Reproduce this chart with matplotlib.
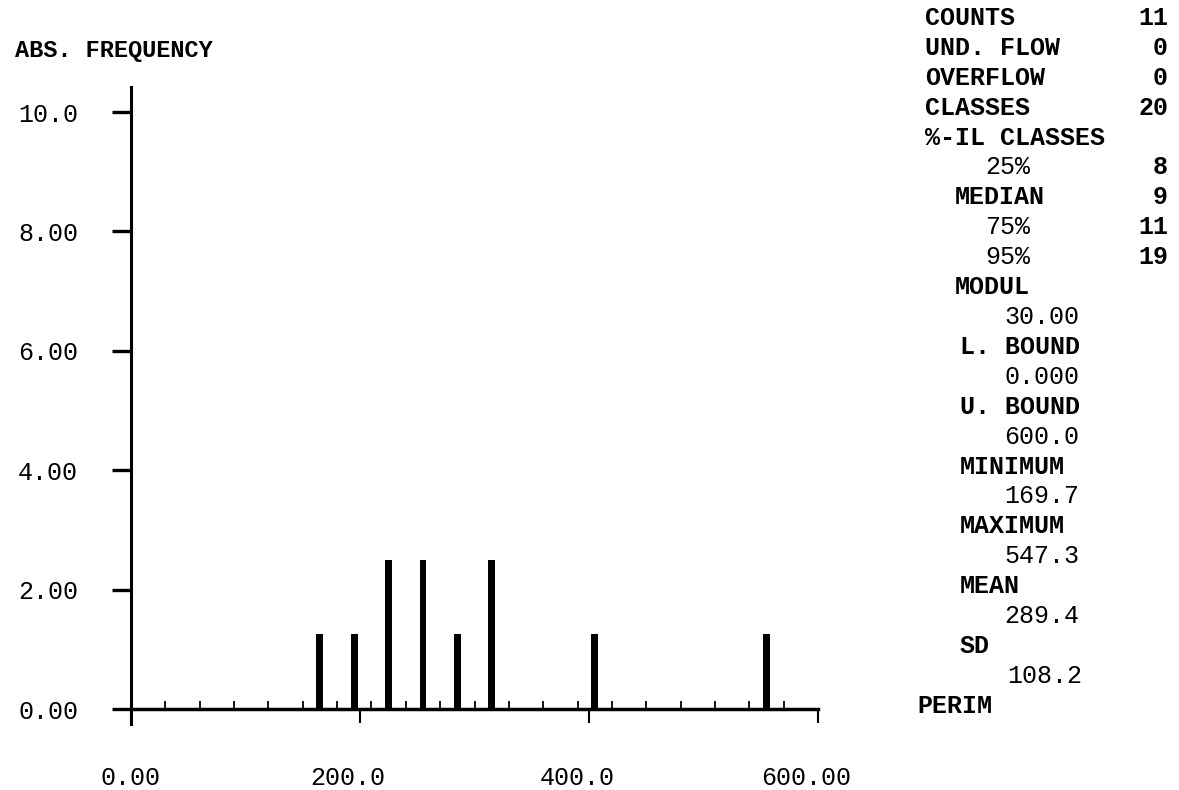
# Histogramm PERIM (Scan-Nachbau)
import matplotlib.pyplot as plt
import numpy as np
from matplotlib.transforms import ScaledTranslation

class_mid = [165, 195, 225, 255, 285, 315, 405, 555]
abs_freq = [1.25, 1.25, 2.5, 2.5, 1.25, 2.5, 1.25, 1.25]
class_edges = list(range(30, 600, 30))

y_ticks = [0, 2, 4, 6, 8, 10]
y_labels = ["0.00", "2.00", "4.00", "6.00", "8.00", "10.0"]
x_ticks = [0, 200, 400, 600]
x_labels = ["0.00", "200.0", "400.0", "600.00"]

# Statistik-Block rechts: (Text, Einrueckung in Zeichen, Wert)
stat_rows = [
    ("COUNTS", 0, "11"),
    ("UND. FLOW", 0, "0"),
    ("OVERFLOW", 0, "0"),
    ("CLASSES", 0, "20"),
    ("%-IL CLASSES", 0, ""),
    ("25%", 4, "8"),
    ("MEDIAN", 2, "9"),
    ("75%", 4, "11"),
    ("95%", 4, "19"),
    ("MODUL", 2, ""),
    ("30.00", 5.3, ""),
    ("L. BOUND", 2.3, ""),
    ("0.000", 5.3, ""),
    ("U. BOUND", 2.3, ""),
    ("600.0", 5.3, ""),
    ("MINIMUM", 2.3, ""),
    ("169.7", 5.3, ""),
    ("MAXIMUM", 2.3, ""),
    ("547.3", 5.3, ""),
    ("MEAN", 2.3, ""),
    ("289.4", 5.3, ""),
    ("SD", 2.3, ""),
    ("108.2", 5.5, ""),
    ("PERIM", -0.5, ""),
]

W, H = 1179, 790
MONO = "Liberation Mono"


def px(x, y):
    return x / W, 1 - y / H


fig = plt.figure(figsize=(W / 100, H / 100), dpi=100)
ax = fig.add_axes([131 / W, (H - 724) / H, (818 - 131) / W, (724 - 87) / H])
ax.set_xlim(0, 600)
ax.set_ylim(-0.25, 10.42)

ax.bar(class_mid, abs_freq, width=6, color="black")

for s in ["top", "right"]:
    ax.spines[s].set_visible(False)
ax.spines["left"].set_bounds(-0.25, 10.42)
ax.spines["left"].set_linewidth(2.2)
ax.spines["bottom"].set_position(("data", 0))
ax.spines["bottom"].set_bounds(0, 600)
ax.spines["bottom"].set_linewidth(2.5)

ax.set_yticks(y_ticks)
ax.set_yticklabels(y_labels, fontfamily=MONO, fontsize=18)
ax.tick_params(axis="y", direction="out", length=14, width=2.4, pad=24)

ax.set_xticks(x_ticks)
ax.set_xticklabels(x_labels, fontfamily=MONO, fontsize=18)
ax.set_xticks(class_edges, minor=True)
ax.tick_params(axis="x", which="major", direction="out", length=10, width=1.5, pad=31)
ax.tick_params(axis="x", which="minor", direction="in", length=6, width=1.3)
for lab in ax.get_xticklabels()[1:]:
    lab.set_transform(lab.get_transform() + ScaledTranslation(-0.12, 0, fig.dpi_scale_trans))

fig.text(*px(15, 51), "ABS. FREQUENCY", fontfamily=MONO, fontsize=17,
         fontweight="bold", va="center", ha="left")

# rechter Block, Zeilenabstand ~30 px
for i, (txt, ind, val) in enumerate(stat_rows):
    y = 18 + i * 29.9
    bold = not txt[0].isdigit()
    fig.text(*px(925 + ind * 15, y), txt, fontfamily=MONO, fontsize=18,
             fontweight="bold" if bold else "normal", va="center", ha="left")
    if val:
        fig.text(*px(1168, y), val, fontfamily=MONO, fontsize=18,
                 fontweight="bold", va="center", ha="right")

fig.savefig("out.png", dpi=100)
